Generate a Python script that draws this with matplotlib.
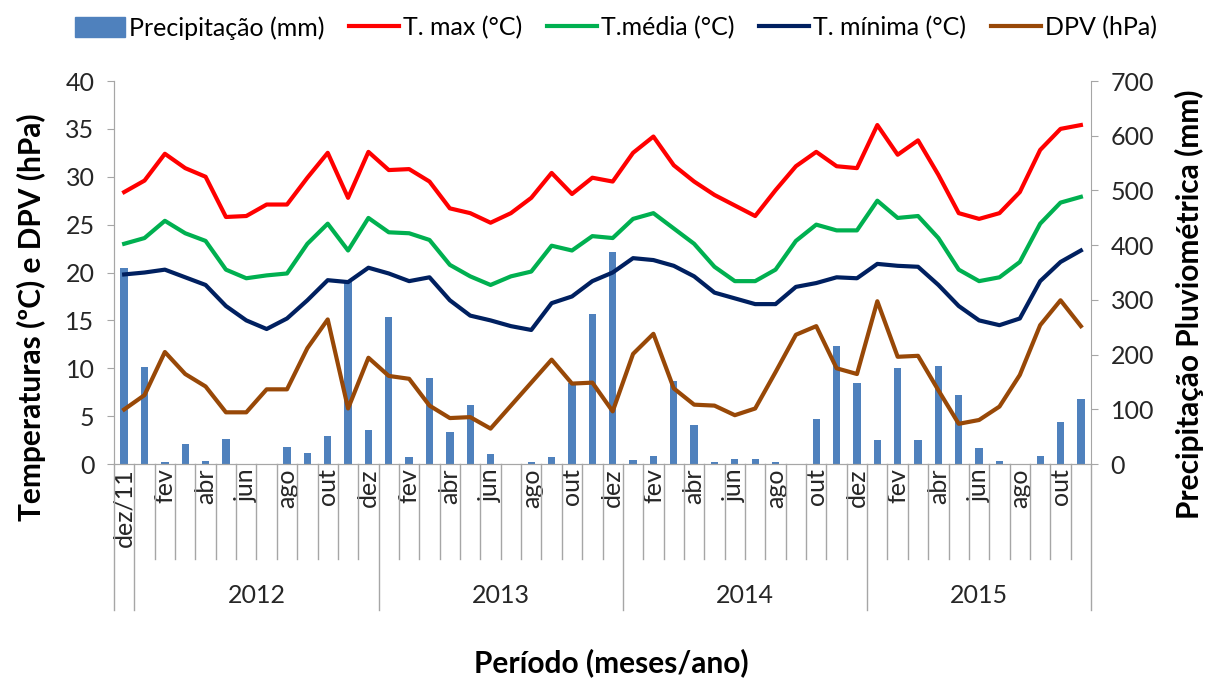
import matplotlib
matplotlib.use("Agg")
import matplotlib.pyplot as plt
import matplotlib.transforms as mtransforms
from matplotlib.patches import Patch
from matplotlib.lines import Line2D
import numpy as np

plt.rcParams["font.family"] = ["Lato", "DejaVu Sans"]

# ── data (dez/11 .. nov/15) ───────────────────────────────────────────────
MONTHS = ["jan", "fev", "mar", "abr", "mai", "jun",
          "jul", "ago", "set", "out", "nov", "dez"]
labels = ["dez/11"] + [MONTHS[i % 12] for i in range(47)]

YEARS = ["2012", "2013", "2014", "2015"]
YEAR_START = [1, 13, 25, 37]   # first category of each year
YEAR_END = [13, 25, 37, 48]    # one past last category

precip = [358, 178, 4, 37, 6, 46, 0, 0, 32, 20, 51, 333, 62,
          269, 12, 158, 58, 107, 18, 0, 4, 12, 148, 274, 388,
          8, 15, 152, 71, 3, 10, 10, 3, 0, 82, 215, 148,
          44, 175, 44, 180, 126, 29, 6, 0, 15, 77, 119]

tmax = [28.4, 29.6, 32.4, 30.9, 30.0, 25.8, 25.9, 27.1, 27.1, 29.9, 32.5, 27.8, 32.6,
        30.7, 30.8, 29.5, 26.7, 26.2, 25.2, 26.2, 27.8, 30.4, 28.2, 29.9, 29.5,
        32.5, 34.2, 31.2, 29.5, 28.1, 27.0, 25.9, 28.6, 31.1, 32.6, 31.1, 30.9,
        35.4, 32.3, 33.8, 30.2, 26.2, 25.6, 26.2, 28.4, 32.8, 35.0, 35.4]

tmed = [23.0, 23.6, 25.4, 24.1, 23.3, 20.3, 19.4, 19.7, 19.9, 23.0, 25.1, 22.3, 25.7,
        24.2, 24.1, 23.4, 20.8, 19.6, 18.7, 19.6, 20.1, 22.8, 22.3, 23.8, 23.6,
        25.6, 26.2, 24.6, 23.0, 20.6, 19.1, 19.1, 20.3, 23.3, 25.0, 24.4, 24.4,
        27.5, 25.7, 25.9, 23.6, 20.3, 19.1, 19.5, 21.1, 25.1, 27.3, 27.9]

tmin = [19.8, 20.0, 20.3, 19.5, 18.7, 16.5, 15.0, 14.1, 15.2, 17.1, 19.2, 19.0, 20.5,
        19.9, 19.1, 19.5, 17.1, 15.5, 15.0, 14.4, 14.0, 16.8, 17.5, 19.1, 20.0,
        21.5, 21.3, 20.7, 19.6, 17.9, 17.3, 16.7, 16.7, 18.5, 18.9, 19.5, 19.4,
        20.9, 20.7, 20.6, 18.7, 16.5, 15.0, 14.5, 15.2, 19.1, 21.1, 22.3]

dpv = [5.7, 7.2, 11.7, 9.4, 8.1, 5.4, 5.4, 7.8, 7.8, 12.1, 15.1, 5.8, 11.1,
       9.2, 8.9, 6.1, 4.8, 4.9, 3.7, 6.1, 8.5, 10.9, 8.4, 8.5, 5.5,
       11.5, 13.6, 7.9, 6.2, 6.1, 5.1, 5.8, 9.6, 13.5, 14.4, 10.0, 9.4,
       17.0, 11.2, 11.3, 7.7, 4.2, 4.6, 6.0, 9.3, 14.5, 17.1, 14.4]

C_BAR = "#4F81BD"
C_MAX = "#FF0000"
C_MED = "#00B050"
C_MIN = "#002060"
C_DPV = "#984807"
C_AX = "#A6A6A6"
C_TXT = "#262626"
FS = 18

x = np.arange(len(labels))

fig = plt.figure(figsize=(12.1, 6.79), dpi=100)
ax = fig.add_axes([0.0942, 0.3166, 0.8075, 0.5641])
ax2 = ax.twinx()
ax.set_zorder(ax2.get_zorder() + 1)
ax.patch.set_visible(False)

ax2.bar(x, precip, width=0.36, color=C_BAR)
lw = 3.0
ax.plot(x, tmax, color=C_MAX, lw=lw, solid_joinstyle="round")
ax.plot(x, tmed, color=C_MED, lw=lw, solid_joinstyle="round")
ax.plot(x, tmin, color=C_MIN, lw=lw, solid_joinstyle="round")
ax.plot(x, dpv, color=C_DPV, lw=lw, solid_joinstyle="round")

ax.set_xlim(-0.5, len(labels) - 0.5)
ax.set_ylim(0, 40)
ax.set_yticks(np.arange(0, 41, 5))
ax2.set_ylim(0, 700)
ax2.set_yticks(np.arange(0, 701, 100))

for a in (ax, ax2):
    for s in a.spines.values():
        s.set_color(C_AX)
    a.spines["top"].set_visible(False)
ax.spines["right"].set_visible(False)

ax.tick_params(axis="y", direction="out", length=5, color=C_AX, pad=9,
               labelsize=FS, labelcolor=C_TXT)
ax2.tick_params(axis="y", direction="out", length=5, color=C_AX, pad=9,
                labelsize=FS, labelcolor=C_TXT)

# category labels: every second month
ax.set_xticks(x[::2])
ax.set_xticklabels(labels[::2], rotation=90, fontsize=FS, color=C_TXT,
                   va="top")
ax.tick_params(axis="x", length=0, pad=3)

# separators below the axis
trans = mtransforms.blended_transform_factory(ax.transData, ax.transAxes)
major = {0, 1, 13, 25, 37, 48}
for k in range(len(labels) + 1):
    b = k - 0.5
    y_low = -0.381 if k in major else -0.248
    ax.plot([b, b], [0, y_low], color=C_AX, lw=1, transform=trans,
            clip_on=False)

for yr, s, e in zip(YEARS, YEAR_START, YEAR_END):
    ax.text((s + e - 1) / 2, -0.342, yr, transform=trans, ha="center",
            va="center", fontsize=FS, color=C_TXT)

fig.text(0.026, 0.533, "Temperaturas (ºC) e DPV (hPa)", rotation=90,
         ha="center", va="center", fontsize=21.5, fontweight="bold")
fig.text(0.983, 0.552, "Precipitação Pluviométrica (mm)", rotation=90,
         ha="center", va="center", fontsize=21.5, fontweight="bold")
fig.text(0.505, 0.0236, "Período (meses/ano)", ha="center", va="center",
         fontsize=21.5, fontweight="bold")

handles = [Patch(color=C_BAR),
           Line2D([], [], color=C_MAX, lw=lw),
           Line2D([], [], color=C_MED, lw=lw),
           Line2D([], [], color=C_MIN, lw=lw),
           Line2D([], [], color=C_DPV, lw=lw)]
names = ["Precipitação (mm)", "T. max (°C)", "T.média (°C)",
         "T. mínima (°C)", "DPV (hPa)"]
fig.legend(handles, names, loc="center", bbox_to_anchor=(0.509, 0.959),
           ncol=5, frameon=False, fontsize=FS, handlelength=2.0,
           handleheight=0.9, handletextpad=0.15, columnspacing=1.0)

fig.savefig("out.png", dpi=100)
